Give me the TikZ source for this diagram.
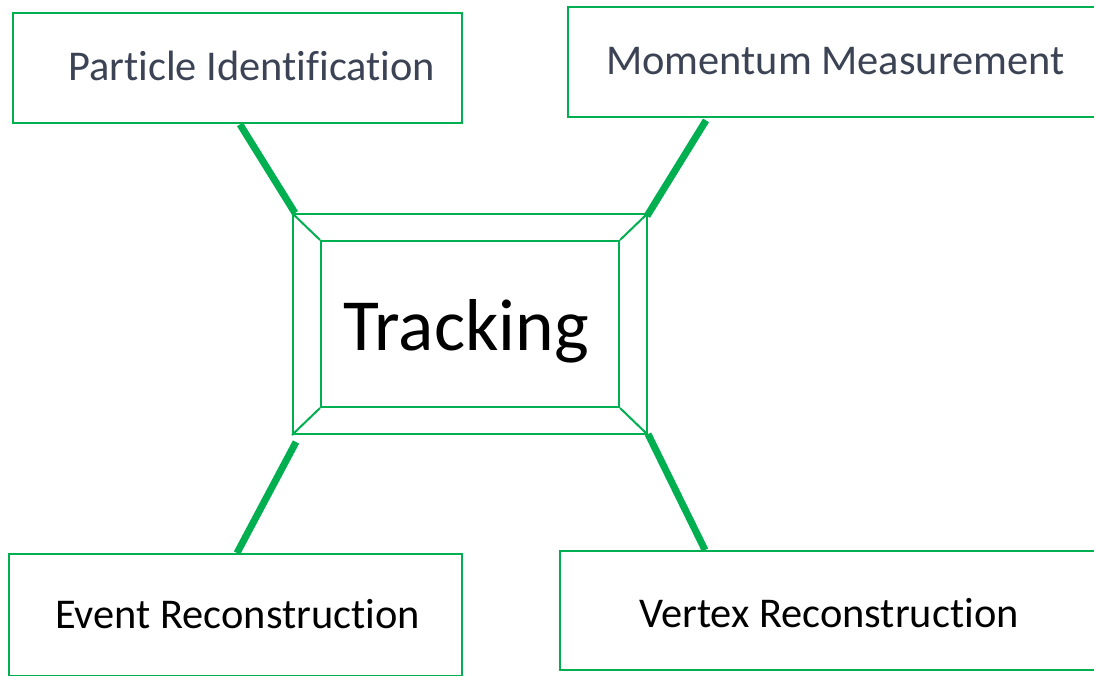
\documentclass[tikz,border=0pt]{standalone}
\usepackage{fontspec}
\setmainfont{Carlito}[Ligatures=NoCommon]
\definecolor{linegreen}{HTML}{00B050}
\definecolor{slatetext}{HTML}{3B4354}
\tikzset{
  box/.style={draw=linegreen, line width=2.4pt, fill=white, rectangle, inner sep=0pt, anchor=north west},
  bevel/.style={draw=linegreen, line width=2pt, rectangle, inner sep=0pt},
  bevelline/.style={draw=linegreen, line width=2pt},
  link/.style={draw=linegreen, line width=7pt},
  toptext/.style={text=slatetext, font=\fontsize{42.4}{48}\selectfont, anchor=base west, inner sep=0pt},
  bottext/.style={text=black, font=\fontsize{42.4}{48}\selectfont, anchor=base west, inner sep=0pt},
}
\begin{document}
\begin{tikzpicture}[x=1pt, y=-1pt]
\useasboundingbox (0,0) rectangle (1094,675);
\begin{scope}
\clip (0,0) rectangle (1094,675);

% outer boxes
\node[box, minimum width=449pt, minimum height=110pt] (pi) at (12,12) {};
\node[box, minimum width=560pt, minimum height=110pt] (mm) at (567,6) {};
\node[box, minimum width=453pt, minimum height=122pt] (er) at (8,553) {};
\node[box, minimum width=560pt, minimum height=119pt] (vr) at (559,550) {};

\node[toptext] (pit) at (68,80) {Particle Identification};
\node[toptext] (mmt) at (606,74) {Momentum Measurement};
\node[bottext] (ert) at (55,628) {Event Reconstruction};
\node[bottext] (vrt) at (639,627) {Vertex Reconstruction};

% central bevelled frame
\node[bevel, minimum width=354pt, minimum height=220pt] (trk) at (470,324) {};
\node[bevel, minimum width=298pt, minimum height=166pt] (trkin) at (470,324) {};
\draw[bevelline] (trk.north west) -- (trkin.north west);
\draw[bevelline] (trk.north east) -- (trkin.north east);
\draw[bevelline] (trk.south west) -- (trkin.south west);
\draw[bevelline] (trk.south east) -- (trkin.south east);
\node[font=\fontsize{73.5}{80}\selectfont, anchor=base, inner sep=0pt] (trkt) at (466,350) {Tracking};

% connectors
\draw[link] ([xshift=228pt]pi.south west) -- ([xshift=3pt]trk.north west);
\draw[link] ([xshift=139pt,yshift=-2pt]mm.south west) -- ([xshift=-1pt,yshift=-3pt]trk.north east);
\draw[link] ([xshift=229pt]er.north west) -- ([xshift=4pt,yshift=-7pt]trk.south west);
\draw[link] ([xshift=146pt]vr.north west) -- ([yshift=1pt]trk.south east);
\end{scope}
\end{tikzpicture}
\end{document}
